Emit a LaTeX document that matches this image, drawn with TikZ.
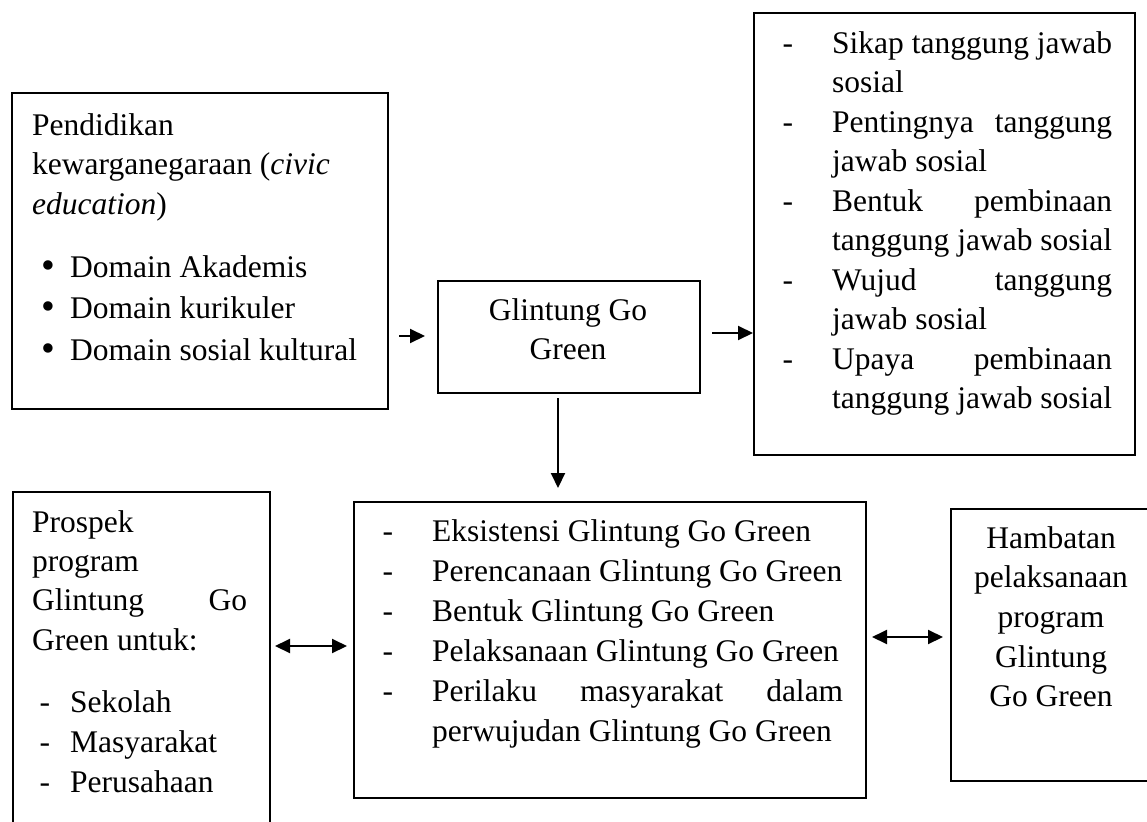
\documentclass[tikz,border=0pt]{standalone}
\usepackage{fontspec}
\setmainfont{Liberation Serif}
\usetikzlibrary{arrows.meta}
\newcommand{\fsz}[1]{\fontsize{31.5}{#1}\selectfont\setlength\parindent{0pt}}
\newcommand{\rs}{\spaceskip=0pt\xspaceskip=0pt\relax}
\newcommand{\dsh}[1]{\leavevmode\llap{-\hskip #1}}
\newcommand{\blt}{\leavevmode\llap{\raisebox{-1pt}{\scalebox{1.25}{•}}\hskip 15pt}}
\newcommand{\spr}[2]{\makebox[#1][s]{#2}}
\begin{document}
\begin{tikzpicture}[x=1pt,y=-1pt,
  box/.style={draw, line width=2pt, anchor=north west, inner sep=0pt, rectangle},
  txt/.style={inner sep=0pt, anchor=north west, align=left},
  ctxt/.style={inner sep=0pt, anchor=north, align=center},
  arr/.style={line width=2pt, -{Triangle[length=15pt,width=14pt]}},
  darr/.style={line width=2pt, {Triangle[length=15pt,width=14pt]}-{Triangle[length=15pt,width=14pt]}}]
\useasboundingbox (0,0) rectangle (1147,821);
% boxes
\node[box, minimum width=376pt, minimum height=316pt] (b1) at (11,92) {};
\node[box, minimum width=262pt, minimum height=112pt] (glint) at (437,280) {};
\node[box, minimum width=381pt, minimum height=442pt] (rb) at (753,12) {};
\node[box, minimum width=257pt, minimum height=349pt] (lb) at (12,491) {};
\node[box, minimum width=512pt, minimum height=296pt] (mid) at (353,501) {};
\node[box, minimum width=197pt, minimum height=272pt] (hb) at (950,508) {};
% texts
\node[txt, text width=350pt, font=\fsz{39.5}] (t1a) at (32,107.35)
  {\rs\strut Pendidikan\\kewarganegaraan (\textit{civic}\\\textit{education})};
\node[txt, text width=330pt, font=\fsz{41.5}] (t1b) at (70,248)
  {\rs\strut\blt Domain Akademis\\\blt Domain kurikuler\\\blt Domain sosial kultural};
\node[ctxt, font=\fsz{39}] (tg) at (568,292.7) {\rs\strut Glintung Go\\Green};
\node[txt, text width=310pt, font=\fsz{39.5}] (trb) at (832,25.35)
  {\rs\strut\dsh{39pt}Sikap tanggung jawab\\
   sosial\\
   \dsh{39pt}\spr{280pt}{Pentingnya\hfill tanggung}\\
   jawab sosial\\
   \dsh{39pt}\spr{280pt}{Bentuk\hfill pembinaan}\\
   tanggung jawab sosial\\
   \dsh{39pt}\spr{280pt}{Wujud\hfill tanggung}\\
   jawab sosial\\
   \dsh{39pt}\spr{280pt}{Upaya\hfill pembinaan}\\
   tanggung jawab sosial};
\node[txt, text width=240pt, font=\fsz{39.3}] (tlb1) at (32,504.5)
  {\rs\strut Prospek\\program\\\spr{215pt}{Glintung\hfill Go}\\Green untuk:};
\node[txt, text width=200pt, font=\fsz{40}] (tlb2) at (70,684)
  {\rs\strut\dsh{20pt}Sekolah\\\dsh{20pt}Masyarakat\\\dsh{20pt}Perusahaan};
\node[txt, text width=440pt, font=\fsz{40}] (tmid) at (432,513)
  {\rs\strut\dsh{39pt}Eksistensi Glintung Go Green\\
   \dsh{39pt}Perencanaan Glintung Go Green\\
   \dsh{39pt}Bentuk Glintung Go Green\\
   \dsh{39pt}Pelaksanaan Glintung Go Green\\
   \dsh{39pt}\spr{411pt}{Perilaku\hfill masyarakat\hfill dalam}\\
   perwujudan Glintung Go Green};
\node[ctxt, font=\fsz{39.7}] (thb) at (1051,520.2)
  {\rs\strut Hambatan\\pelaksanaan\\program\\Glintung\\Go Green};
% connectors
\draw[arr, shorten <=10pt, shorten >=12pt] ([yshift=1pt]b1.east |- glint.west) -- ([yshift=1pt]glint.west);
\draw[arr, shorten <=11pt] ([yshift=4pt]glint.east) -- ([yshift=4pt]rb.west |- glint.east);
\draw[arr, shorten <=4pt, shorten >=13pt] ([xshift=-11pt]glint.south) -- ([xshift=-11pt]glint.south |- mid.north);
\draw[darr, shorten <=4pt, shorten >=6pt] ([yshift=4pt]lb.east |- mid.west) -- ([yshift=4pt]mid.west);
\draw[darr, shorten <=5pt, shorten >=7pt] ([yshift=8pt]mid.east |- hb.west) -- ([yshift=8pt]hb.west);
\end{tikzpicture}
\end{document}
